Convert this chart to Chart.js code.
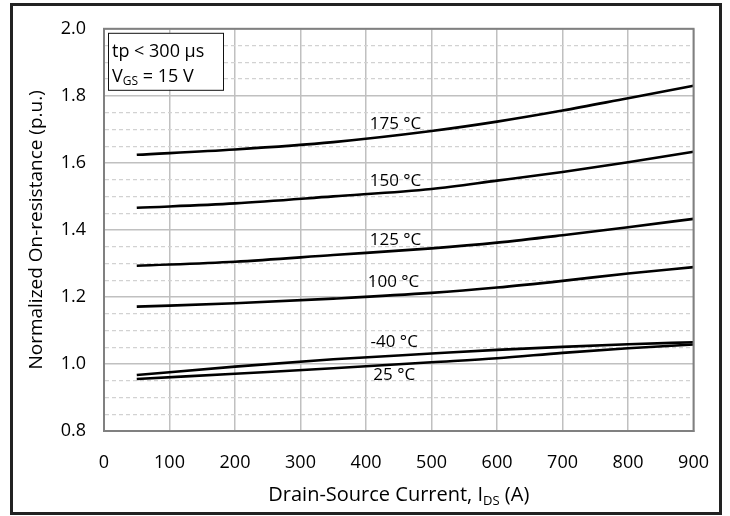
<!DOCTYPE html>
<html>
<head>
<meta charset="utf-8">
<script src="https://cdn.jsdelivr.net/npm/chart.js@4.4.1/dist/chart.umd.min.js"></script>
<style>
  html, body { margin: 0; background: #fff; }
</style>
</head>
<body>
<canvas id="chart" width="730" height="516"></canvas>
<script>
/* ---- data ---- */
const current = [50, 200, 350, 500, 600, 700, 800, 900];           // I_DS (A)
const r175  = [1.624, 1.640, 1.662, 1.695, 1.723, 1.756, 1.793, 1.830];
const r150  = [1.466, 1.479, 1.500, 1.522, 1.547, 1.573, 1.602, 1.633];
const r125  = [1.293, 1.305, 1.325, 1.345, 1.362, 1.384, 1.408, 1.433];
const r100  = [1.171, 1.181, 1.195, 1.212, 1.228, 1.248, 1.270, 1.289];
const rM40  = [0.967, 0.992, 1.014, 1.031, 1.042, 1.051, 1.059, 1.065];
const r25   = [0.955, 0.971, 0.987, 1.005, 1.017, 1.033, 1.047, 1.058];
const seriesNames = ['175 °C', '150 °C', '125 °C', '100 °C', '-40 °C', '25 °C'];
const seriesData  = [r175, r150, r125, r100, rM40, r25];

const FONT = "'Open Sans', 'Noto Sans', sans-serif";
const TXT = '#000';
const isMajor = v => Math.round(v * 100) % 20 === 0;

// where each curve name sits, in data units
const labelPos = {
  '175 °C': [445, 1.716],
  '150 °C': [445, 1.545],
  '125 °C': [445, 1.370],
  '100 °C': [442, 1.243],
  '-40 °C': [443, 1.064],
  '25 °C':  [443, 0.968],
};

/* ---- plugins: frame, curve labels, note box, x title ---- */
const extras = {
  id: 'extras',
  afterDatasetsDraw(chart) {
    const { ctx, chartArea: a, scales: { x, y } } = chart;
    ctx.save();

    // plot border
    ctx.strokeStyle = '#808080';
    ctx.lineWidth = 2;
    ctx.strokeRect(a.left, a.top, a.right - a.left, a.bottom - a.top);

    // curve names
    ctx.fillStyle = TXT;
    ctx.font = `17px ${FONT}`;
    ctx.textAlign = 'center';
    ctx.textBaseline = 'middle';
    seriesNames.forEach(n => {
      const p = labelPos[n];
      ctx.fillText(n, x.getPixelForValue(p[0]), y.getPixelForValue(p[1]));
    });

    // note box
    const bx = a.left + 4, by = a.top + 4;
    ctx.fillStyle = '#fff';
    ctx.fillRect(bx, by, 115, 57);
    ctx.strokeStyle = '#111';
    ctx.lineWidth = 1;
    ctx.strokeRect(bx + 0.5, by + 0.5, 115, 57);
    ctx.fillStyle = TXT;
    ctx.textAlign = 'left';
    ctx.textBaseline = 'alphabetic';
    ctx.font = `18px ${FONT}`;
    ctx.fillText('tp < 300 µs', bx + 4, by + 24);
    let tx = bx + 4;
    ctx.fillText('V', tx, by + 49);
    tx += ctx.measureText('V').width;
    ctx.font = `12px ${FONT}`;
    ctx.fillText('GS', tx, by + 52);
    tx += ctx.measureText('GS').width;
    ctx.font = `18px ${FONT}`;
    ctx.fillText(' = 15 V', tx, by + 49);

    // x axis title with subscript
    const parts = [['Drain-Source Current, I', 20, 0], ['DS', 13, 4], [' (A)', 20, 0]];
    let w = 0;
    parts.forEach(p => { ctx.font = `${p[1]}px ${FONT}`; w += ctx.measureText(p[0]).width; });
    let px = (a.left + a.right) / 2 - w / 2;
    parts.forEach(p => {
      ctx.font = `${p[1]}px ${FONT}`;
      ctx.fillText(p[0], px, 501 + p[2]);
      px += ctx.measureText(p[0]).width;
    });

    // outer frame
    ctx.strokeStyle = '#222';
    ctx.lineWidth = 3;
    ctx.strokeRect(11.5, 4.5, 709, 509);
    ctx.restore();
  }
};

new Chart(document.getElementById('chart'), {
  type: 'line',
  data: {
    datasets: seriesNames.map((n, i) => ({
      label: n,
      data: current.map((c, j) => ({ x: c, y: seriesData[i][j] })),
      borderColor: '#000',
      borderWidth: 2.6,
      pointRadius: 0,
      cubicInterpolationMode: 'monotone',
      fill: false,
    })),
  },
  options: {
    responsive: false,
    animation: false,
    devicePixelRatio: 1,
    layout: { padding: { left: 21, top: 21, right: 35, bottom: 8 } },
    plugins: { legend: { display: false }, tooltip: { enabled: false } },
    scales: {
      x: {
        type: 'linear',
        min: 0, max: 900,
        afterFit: s => { s.height = 77; },
        ticks: { stepSize: 100, padding: 21, color: TXT, font: { family: FONT, size: 18 } },
        grid: { color: '#c0c0c0', lineWidth: 1.5, drawTicks: false },
        border: { color: '#808080', width: 2 },
      },
      y: {
        min: 0.8, max: 2.0,
        afterFit: s => { s.width = 83; },
        ticks: {
          stepSize: 0.05,
          autoSkip: false,
          padding: 18,
          color: TXT,
          font: { family: FONT, size: 18 },
          callback: v => isMajor(v) ? v.toFixed(1) : '',
        },
        grid: {
          drawTicks: false,
          color: c => (c.tick && isMajor(c.tick.value)) ? '#c0c0c0' : '#d2d2d2',
          lineWidth: c => (c.tick && isMajor(c.tick.value)) ? 1.5 : 1.2,
        },
        border: {
          color: '#808080', width: 2,
          dash: c => (c.tick && !isMajor(c.tick.value)) ? [4, 3] : [],
        },
        title: {
          display: true,
          text: 'Normalized On-resistance (p.u.)',
          color: TXT,
          font: { family: FONT, size: 19 },
        },
      },
    },
  },
  plugins: [extras],
});
</script>
</body>
</html>
